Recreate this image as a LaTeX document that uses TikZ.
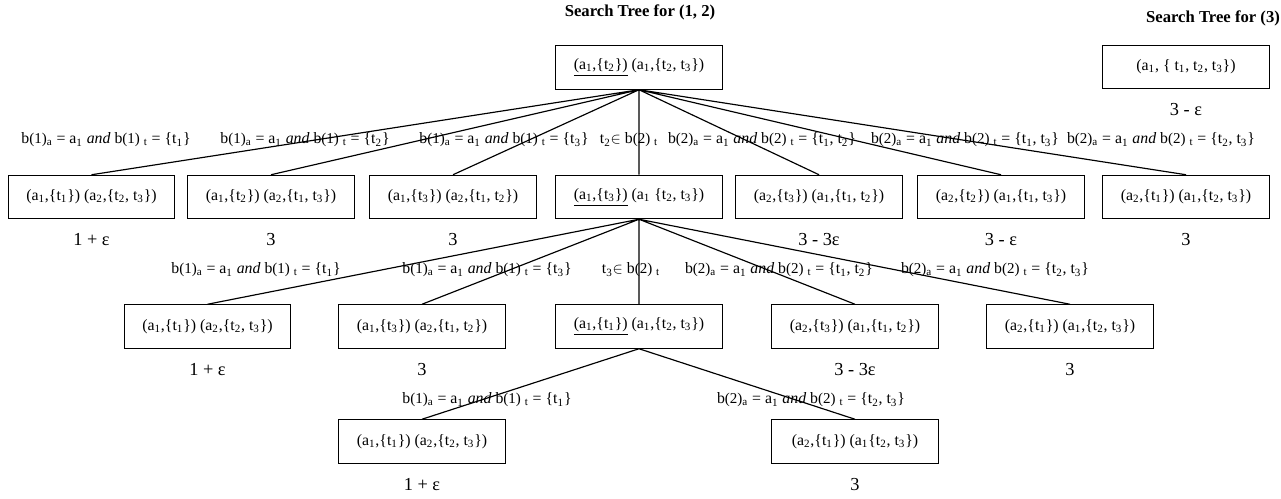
\documentclass[tikz,border=0pt]{standalone}
\usepackage{fontspec}
\setmainfont{Liberation Serif}
\newcommand{\sub}[1]{\textsubscript{#1}}
\newcommand{\bsel}[2]{b{\small(#1)}\sub{a} = a\sub{1} \textit{and} b{\small(#1)} \sub{t} = \{#2\}}
\newcommand{\bin}[1]{t\sub{#1}$\in$ b{\small(2)} \sub{t}}
\begin{document}
\begin{tikzpicture}[x=0.6pt, y=-0.6pt, label distance=5pt,
    box/.style={draw, line width=0.7pt, minimum width=100pt, minimum height=26pt, inner sep=0pt,
        font=\fontsize{9.5}{11}\selectfont},
    cond/.style={inner sep=1pt, font=\fontsize{9.5}{11}\selectfont},
    every label/.style={font=\fontsize{11}{13}\selectfont}]
    \useasboundingbox (0,0) rectangle (1281,499);
    % titles
    \node[font=\bfseries] (title12) at (640,12) {Search Tree for (1, 2)};
    \node[font=\bfseries] (title3) at (1213,18) {Search Tree for (3)};
    % roots
    \node[box] (r) at (639,67.5) {\underline{(a\sub{1},\{t\sub{2}\})} (a\sub{1},\{t\sub{2}, t\sub{3}\})};
    \node[box, label={below:3 - ε}] (s) at (1186,67) {(a\sub{1}, \{ t\sub{1}, t\sub{2}, t\sub{3}\})};
    % first level
    \node[box, label={below:1 + ε}] (a1) at (91.5,197) {(a\sub{1},\{t\sub{1}\}) (a\sub{2},\{t\sub{2}, t\sub{3}\})};
    \node[box, label={below:3}] (a2) at (271,197) {(a\sub{1},\{t\sub{2}\}) (a\sub{2},\{t\sub{1}, t\sub{3}\})};
    \node[box, label={below:3}] (a3) at (453,197) {(a\sub{1},\{t\sub{3}\}) (a\sub{2},\{t\sub{1}, t\sub{2}\})};
    \node[box] (a4) at (639,197) {\underline{(a\sub{1},\{t\sub{3}\})} (a\sub{1} \{t\sub{2}, t\sub{3}\})};
    \node[box, label={below:3 - 3ε}] (a5) at (819,197) {(a\sub{2},\{t\sub{3}\}) (a\sub{1},\{t\sub{1}, t\sub{2}\})};
    \node[box, label={below:3 - ε}] (a6) at (1001,197) {(a\sub{2},\{t\sub{2}\}) (a\sub{1},\{t\sub{1}, t\sub{3}\})};
    \node[box, label={below:3}] (a7) at (1186,197) {(a\sub{2},\{t\sub{1}\}) (a\sub{1},\{t\sub{2}, t\sub{3}\})};
    \node[cond] (e1) at (106,140) {\bsel{1}{t\sub{1}}};
    \node[cond] (e2) at (305,140) {\bsel{1}{t\sub{2}}};
    \node[cond] (e3) at (504,140) {\bsel{1}{t\sub{3}}};
    \node[cond] (e4) at (629,140) {\bin{2}};
    \node[cond] (e5) at (762,140) {\bsel{2}{t\sub{1}, t\sub{2}}};
    \node[cond] (e6) at (965,140) {\bsel{2}{t\sub{1}, t\sub{3}}};
    \node[cond] (e7) at (1161,140) {\bsel{2}{t\sub{2}, t\sub{3}}};
    % second level
    \node[box, label={below:1 + ε}] (b1) at (207.5,326.5) {(a\sub{1},\{t\sub{1}\}) (a\sub{2},\{t\sub{2}, t\sub{3}\})};
    \node[box, label={below:3}] (b2) at (422,326.5) {(a\sub{1},\{t\sub{3}\}) (a\sub{2},\{t\sub{1}, t\sub{2}\})};
    \node[box] (b3) at (639,326.5) {\underline{(a\sub{1},\{t\sub{1}\})} (a\sub{1},\{t\sub{2}, t\sub{3}\})};
    \node[box, label={below:3 - 3ε}] (b4) at (855,326.5) {(a\sub{2},\{t\sub{3}\}) (a\sub{1},\{t\sub{1}, t\sub{2}\})};
    \node[box, label={below:3}] (b5) at (1070,326.5) {(a\sub{2},\{t\sub{1}\}) (a\sub{1},\{t\sub{2}, t\sub{3}\})};
    \node[cond] (f1) at (256,270) {\bsel{1}{t\sub{1}}};
    \node[cond] (f2) at (487,270) {\bsel{1}{t\sub{3}}};
    \node[cond] (f3) at (631,270) {\bin{3}};
    \node[cond] (f4) at (779,270) {\bsel{2}{t\sub{1}, t\sub{2}}};
    \node[cond] (f5) at (995,270) {\bsel{2}{t\sub{2}, t\sub{3}}};
    % third level
    \node[box, label={below:1 + ε}] (c1) at (422,441.5) {(a\sub{1},\{t\sub{1}\}) (a\sub{2},\{t\sub{2}, t\sub{3}\})};
    \node[box, label={below:3}] (c2) at (855,441.5) {(a\sub{2},\{t\sub{1}\}) (a\sub{1}\{t\sub{2}, t\sub{3}\})};
    \node[cond] (g1) at (487,400) {\bsel{1}{t\sub{1}}};
    \node[cond] (g2) at (811,400) {\bsel{2}{t\sub{2}, t\sub{3}}};
    % edges
    \draw[line width=0.7pt] (r.south)--(a1.north) (r.south)--(a2.north) (r.south)--(a3.north) (r.south)--(a4.north)
        (r.south)--(a5.north) (r.south)--(a6.north) (r.south)--(a7.north);
    \draw[line width=0.7pt] (a4.south)--(b1.north) (a4.south)--(b2.north) (a4.south)--(b3.north)
        (a4.south)--(b4.north) (a4.south)--(b5.north);
    \draw[line width=0.7pt] (b3.south)--(c1.north) (b3.south)--(c2.north);
\end{tikzpicture}
\end{document}
